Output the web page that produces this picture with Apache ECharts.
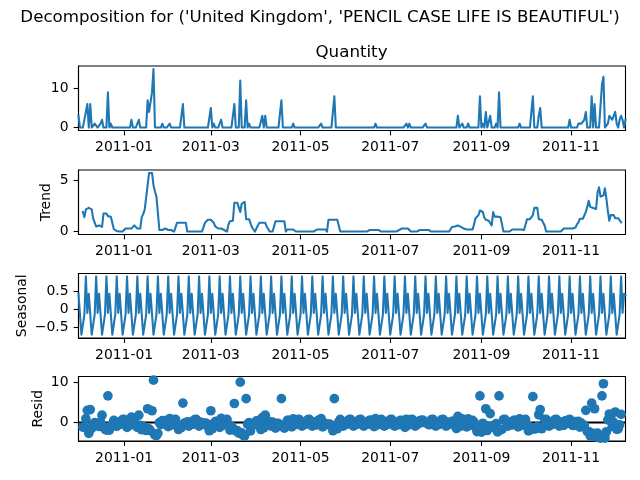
<!DOCTYPE html>
<html>
<head>
<meta charset="utf-8">
<script src="https://cdn.jsdelivr.net/npm/echarts@6/dist/echarts.min.js"></script>
<style>html,body{margin:0;padding:0;background:#fff}#c{width:640px;height:480px}</style>
</head>
<body>
<div id="c"></div>
<script>
const startDay = '2010-12-01';
const endDay = '2011-12-08';
const tickDays = ['2011-01-01','2011-03-01','2011-05-01','2011-07-01','2011-09-01','2011-11-01'];
const tickLabels = ['2011-01','2011-03','2011-05','2011-07','2011-09','2011-11'];
const quantityTicks = [0,10];
const trendTicks = [0,5];
const seasonalTicks = [-0.5,0,0.5];
const residTicks = [0,10];

const quantity = [
3,0,0,0,0,4,6,0,6,0,
0,1,1,0,0,1,2,0,0,0,
9,0,1,0,0,0,0,0,0,0,
0,0,0,0,0,0,2,0,0,0,
0,2,0,0,0,0,0,7,4,4,
9,15,0,0,0,0,0,1,0,0,
0,0,1,0,0,0,0,0,0,0,
0,6,0,0,0,0,0,0,0,0,
0,0,0,0,0,0,0,0,0,0,
5,0,1,0,0,0,0,2,0,0,
0,0,0,0,0,0,6,0,0,0,
12,0,0,0,7,0,1,0,0,0,
0,0,0,0,0,3,0,3,0,0,
0,0,0,0,0,0,0,0,7,0,
0,0,0,0,0,0,1,0,0,0,
0,0,0,0,0,0,0,0,0,0,
0,0,0,0,0,1,0,0,0,0,
0,0,0,0,8,0,0,0,0,0,
0,0,0,0,0,0,0,0,0,0,
0,0,0,0,0,0,0,0,0,0,
0,0,1,0,0,0,0,0,0,0,
0,0,0,0,0,0,0,0,0,0,
0,0,0,1,0,1,0,0,0,0,
0,0,0,0,0,0,1,0,0,0,
0,0,0,0,0,0,0,0,0,0,
0,0,0,0,0,0,0,0,3,0,
0,1,0,0,0,1,0,0,0,0,
0,0,0,8,0,1,0,4,0,0,
3,0,0,0,1,0,9,0,0,0,
0,0,0,0,0,0,0,0,0,0,
1,0,0,0,0,0,0,0,0,8,
0,0,0,3,5,0,0,0,0,0,
0,0,0,0,0,0,0,0,0,0,
0,0,0,0,2,0,0,0,0,0,
1,1,1,1,2,4,0,0,0,8,
0,6,0,0,0,0,11,13,0,0,
1,3,3,2,2,4,1,0,2,3,
2,0,2];

const trend = [
null,null,null,1.9,1.4,2.15,2.3,2.3,2.45,2.15,
1.25,1.2,.5,.65,.6,.5,.45,1.75,1.8,1.75,
1.5,1.5,1.45,1.45,.25,.2,.05,0,0,0,
0,0,.3,.3,.3,.3,.3,.3,.6,.55,
.3,.3,.3,1.4,1.7,2.1,3.3,4.5,5.7,5.7,
5.7,4.5,3.9,3.4,1.8,.15,.15,.15,.3,.3,
.15,.15,.15,.15,.15,0,0,.85,.85,.85,
.85,.85,.85,.85,0,0,0,0,0,0,
0,0,0,0,0,0,.85,1,1.15,1.15,
1.15,1.15,.85,.5,.45,.3,.3,.3,.3,.15,
0,0,.7,1,1,1.05,2.8,2.8,2.8,2.8,
1.9,2.7,2.8,2.9,1.2,1.2,1.2,1.2,.4,.2,
0,.3,.6,.85,.85,.85,.85,.85,.5,.4,
0,0,0,0,1,1,1,1,1,1,
1,0,.2,.2,.2,.2,.2,.2,0,0,
0,0,0,0,0,0,0,0,0,0,
0,0,.2,.2,.2,.2,.2,.2,.2,0,
1.15,1.15,1.15,1.15,1.15,1.15,1.15,.6,0,0,
0,0,0,0,0,0,0,0,0,0,
0,0,0,0,0,0,0,0,.15,.15,
.15,.15,.15,.15,.15,.15,0,0,0,0,
0,0,0,0,0,0,0,0,.15,.15,
.3,.3,.3,.3,.3,.15,0,0,0,0,
0,0,.15,.15,.15,.15,.15,.15,.15,.15,
0,0,0,0,0,0,0,0,0,0,
0,0,0,0,.45,.45,.5,.6,.6,.6,
.45,.3,.3,.2,.2,.2,.2,.2,.2,.7,
1.3,1.35,1.6,2.05,2.05,1.9,1.35,1.15,1.1,1.05,
.9,.6,1.9,1.45,1.45,1.45,1.4,1.4,1.3,0,
0,0,0,0,0,.2,.2,.2,.2,.2,
.2,.2,.2,.15,0,1.2,1.2,1.2,1.2,1.6,
2.3,2.3,2.3,1.2,1.15,1.15,1.15,.6,0,0,
0,0,0,0,0,0,0,0,0,0,
.3,.3,.3,.3,.3,.3,.3,.3,.4,.7,
.9,1.25,1.25,1.25,1.25,1.9,2.4,3,2.4,2.4,
2.3,2.2,2.2,3.8,4.3,3.4,3.4,3.5,4.2,3.2,
2,1.05,1.6,1.6,1.6,1.3,1.3,1.3,1.1,.9,
null,null,null];

const seasonal = [
.42,.38,-.7,-.75,-.15,.9,-.1,.42,.38,-.7,-.75,-.15,.9,-.1,
.42,.38,-.7,-.75,-.15,.9,-.1,.42,.38,-.7,-.75,-.15,.9,-.1,
.42,.38,-.7,-.75,-.15,.9,-.1,.42,.38,-.7,-.75,-.15,.9,-.1,
.42,.38,-.7,-.75,-.15,.9,-.1,.42,.38,-.7,-.75,-.15,.9,-.1,
.42,.38,-.7,-.75,-.15,.9,-.1,.42,.38,-.7,-.75,-.15,.9,-.1,
.42,.38,-.7,-.75,-.15,.9,-.1,.42,.38,-.7,-.75,-.15,.9,-.1,
.42,.38,-.7,-.75,-.15,.9,-.1,.42,.38,-.7,-.75,-.15,.9,-.1,
.42,.38,-.7,-.75,-.15,.9,-.1,.42,.38,-.7,-.75,-.15,.9,-.1,
.42,.38,-.7,-.75,-.15,.9,-.1,.42,.38,-.7,-.75,-.15,.9,-.1,
.42,.38,-.7,-.75,-.15,.9,-.1,.42,.38,-.7,-.75,-.15,.9,-.1,
.42,.38,-.7,-.75,-.15,.9,-.1,.42,.38,-.7,-.75,-.15,.9,-.1,
.42,.38,-.7,-.75,-.15,.9,-.1,.42,.38,-.7,-.75,-.15,.9,-.1,
.42,.38,-.7,-.75,-.15,.9,-.1,.42,.38,-.7,-.75,-.15,.9,-.1,
.42,.38,-.7,-.75,-.15,.9,-.1,.42,.38,-.7,-.75,-.15,.9,-.1,
.42,.38,-.7,-.75,-.15,.9,-.1,.42,.38,-.7,-.75,-.15,.9,-.1,
.42,.38,-.7,-.75,-.15,.9,-.1,.42,.38,-.7,-.75,-.15,.9,-.1,
.42,.38,-.7,-.75,-.15,.9,-.1,.42,.38,-.7,-.75,-.15,.9,-.1,
.42,.38,-.7,-.75,-.15,.9,-.1,.42,.38,-.7,-.75,-.15,.9,-.1,
.42,.38,-.7,-.75,-.15,.9,-.1,.42,.38,-.7,-.75,-.15,.9,-.1,
.42,.38,-.7,-.75,-.15,.9,-.1,.42,.38,-.7,-.75,-.15,.9,-.1,
.42,.38,-.7,-.75,-.15,.9,-.1,.42,.38,-.7,-.75,-.15,.9,-.1,
.42,.38,-.7,-.75,-.15,.9,-.1,.42,.38,-.7,-.75,-.15,.9,-.1,
.42,.38,-.7,-.75,-.15,.9,-.1,.42,.38,-.7,-.75,-.15,.9,-.1,
.42,.38,-.7,-.75,-.15,.9,-.1,.42,.38,-.7,-.75,-.15,.9,-.1,
.42,.38,-.7,-.75,-.15,.9,-.1,.42,.38,-.7,-.75,-.15,.9,-.1,
.42,.38,-.7,-.75,-.15,.9,-.1,.42,.38,-.7,-.75,-.15,.9,-.1,
.42,.38,-.7,-.75,-.15,.9,-.1,.42,.38];

const resid = [
null,null,null,-1.15,-1.25,.95,3,-2.7,3.2,-1.45,
-.5,-.05,-.4,-.55,-1,.1,1.8,-1,-1.65,-1.9,
6.6,-1.9,-.8,-.75,.5,-.05,-.95,.1,-.4,-.4,
.7,.75,-.15,-1.2,-.2,-.7,1.3,.4,.15,-.4,
-1.2,1.8,-.7,-1.8,-1,-1.35,-2,3.4,-1.6,-2.1,
2.9,10.5,-3.15,-3.25,-2.7,-.05,-.55,.45,.4,.45,
0,-1.05,.95,-.55,-.55,.7,.75,-.7,-1.75,-.75,
-1.25,4.8,-.15,-.1,.15,-.9,.1,-.4,-.4,.7,
.75,.15,-.9,.1,-.4,-.4,-.15,-.25,-1,-2.05,
2.9,-1.55,-.25,.2,.3,-.15,-1.2,1,-.7,-.55,
.7,.75,-.55,-1.9,-.9,-1.45,4.7,-2.1,-2.05,-2.65,
10,-2.6,-3.2,-3.3,5.9,-.45,-.05,-2.1,-.3,-.6,
-.4,.4,.15,-.7,-1.75,1.2,-1.3,1.8,.2,.35,
.15,-.9,.1,-.4,-1.4,-.3,-.25,-.85,5.9,-.9,
-1.4,-.4,.5,.55,-.05,-1.1,.9,-.6,-.4,.7,
.75,.15,-.9,.1,-.4,-.4,.7,.75,.15,-.9,
.1,-.4,-.6,.5,.55,.95,-1.1,-.1,-.6,-.4,
-.45,-.4,-1,-2.05,5.9,-1.55,-1.55,.1,.75,.15,
-.9,.1,-.4,-.4,.7,.75,.15,-.9,.1,-.4,
-.4,.7,.75,.15,-.9,.1,-.4,-.4,.55,.6,
0,-1.05,.95,-.55,-.55,.55,.75,.15,-.9,.1,
-.4,-.4,.7,.75,.15,-.9,.1,-.4,-.55,.55,
.45,-.15,-1.2,.8,-.7,.45,.7,.75,.15,-.9,
.1,-.4,.4,.55,.6,0,-.05,-.05,-.55,-.55,
.7,.75,.15,-.9,.1,-.4,-.4,.7,.75,.15,
-.9,.1,-.4,-.4,.25,.3,-.35,-1.5,1.5,-1,
-.85,.9,.45,-.05,-1.1,.9,-.6,-.6,.5,.05,
-1.15,-2.25,-1.25,6.6,-2.4,-.2,-.6,3.4,-2,-.95,
2.2,-1,-1.2,-.7,-.3,-2.35,6.6,-1.8,-1.7,.7,
.75,.15,-.9,.1,-.4,-.6,.5,.55,-.05,-1.1,
.9,-.6,-.6,.55,.75,-1.05,-2.1,-1.1,-1.7,6.4,
-1.6,-1.55,-1.05,1.9,3.2,-1.55,-1,.7,.75,.15,
-.9,.1,-.4,-.4,.7,.75,.15,-.9,.1,-.4,
-.7,.4,.45,-.15,.8,-.2,-.7,-.7,.2,.15,
.25,-1.15,-.15,-.65,-.7,3,-2.25,-2.25,-3.3,4.8,
-2.7,3.4,-3.6,-2.65,-3.25,-3.9,6.6,9.6,-3.9,-2.3,
.65,2.1,1.6,-1,0,2.6,-1.7,-1.6,-.6,2,
null,null,null];

const DAY = 86400000;
const t0 = Date.parse(startDay + 'T00:00:00Z');
const t1 = Date.parse(endDay + 'T00:00:00Z');
const dayOf = i => t0 + i * DAY;
const pairs = arr => arr.map((v, i) => [dayOf(i), v]);
const tickTimes = tickDays.map(d => Date.parse(d + 'T00:00:00Z'));

const FONT = 'DejaVu Sans';
const BLUE = '#1f77b4';
const TXT = { color: '#000', fontFamily: FONT, fontSize: 13.9 };
const fmtY = v => String(v).replace('-', '\u2212');

const panels = [
  { top: 66, h: 64.5, min: -0.75, max: 15.75, ticks: quantityTicks, name: '', gap: 0 },
  { top: 170, h: 64.5, min: -0.285, max: 5.985, ticks: trendTicks, name: 'Trend', gap: 25 },
  { top: 273.5, h: 64.5, min: -0.79, max: 0.98, ticks: seasonalTicks, name: 'Seasonal', gap: 49 },
  { top: 376.5, h: 64.5, min: -4.6, max: 11.4, ticks: residTicks, name: 'Resid', gap: 33 }
];

const grid = panels.map(p => ({
  left: 78.5, right: 14.5, top: p.top, height: p.h,
  show: true, borderColor: '#000', borderWidth: 1.1, backgroundColor: '#fff', containLabel: false
}));
const axisBase = { axisLine: { show: true, onZero: false, lineStyle: { color: '#000', width: 1.1 } } };
const xAxis = panels.map((p, i) => ({
  ...axisBase, type: 'value', gridIndex: i, min: t0, max: t1, splitLine: { show: false },
  axisTick: { show: true, length: 4.9, lineStyle: { color: '#000', width: 1.1 }, customValues: tickTimes },
  axisLabel: { ...TXT, margin: 10, customValues: tickTimes, hideOverlap: false, showMinLabel: true, showMaxLabel: true,
    formatter: v => tickLabels[tickTimes.indexOf(+v)] || '' }
}));
const yAxis = panels.map((p, i) => ({
  ...axisBase, type: 'value', gridIndex: i, min: p.min, max: p.max, splitLine: { show: false },
  name: p.name, nameLocation: 'middle', nameRotate: 90, nameGap: p.gap, nameMoveOverlap: false, nameTextStyle: { ...TXT },
  axisTick: { show: true, length: 4.9, lineStyle: { color: '#000', width: 1.1 }, customValues: p.ticks },
  axisLabel: { ...TXT, margin: 10, customValues: p.ticks, showMinLabel: true, showMaxLabel: true, formatter: fmtY }
}));
const lineStyle = { color: BLUE, width: 2.08, join: 'round', cap: 'square' };
const lineSeries = (i, arr) => ({ type: 'line', xAxisIndex: i, yAxisIndex: i, data: pairs(arr), showSymbol: false,
  symbol: 'none', lineStyle, itemStyle: { color: BLUE }, connectNulls: false, z: 3, silent: true });

const option = {
  animation: false,
  backgroundColor: '#fff',
  textStyle: { fontFamily: FONT },
  title: [
    { text: "Decomposition for ('United Kingdom', 'PENCIL CASE LIFE IS BEAUTIFUL')", left: 320, textAlign: 'center', top: 9, padding: 0,
      textStyle: { color: '#000', fontFamily: FONT, fontSize: 16.67, fontWeight: 'normal' } },
    { text: 'Quantity', left: 351.5, textAlign: 'center', top: 44, padding: 0,
      textStyle: { color: '#000', fontFamily: FONT, fontSize: 16.67, fontWeight: 'normal' } }
  ],
  grid, xAxis, yAxis,
  series: [
    lineSeries(0, quantity),
    lineSeries(1, trend),
    lineSeries(2, seasonal),
    { type: 'line', xAxisIndex: 3, yAxisIndex: 3, data: [[t0, 0], [t1, 0]], showSymbol: false, symbol: 'none',
      lineStyle: { color: '#000', width: 2.08 }, z: 2, silent: true },
    { type: 'scatter', xAxisIndex: 3, yAxisIndex: 3, data: pairs(resid).filter(d => d[1] !== null), symbol: 'circle', symbolSize: 9.7,
      itemStyle: { color: BLUE, opacity: 1 }, z: 4, silent: true }
  ]
};
const chart = echarts.init(document.getElementById('c'), null, { renderer: 'canvas' });
chart.setOption(option);
</script>
</body>
</html>
